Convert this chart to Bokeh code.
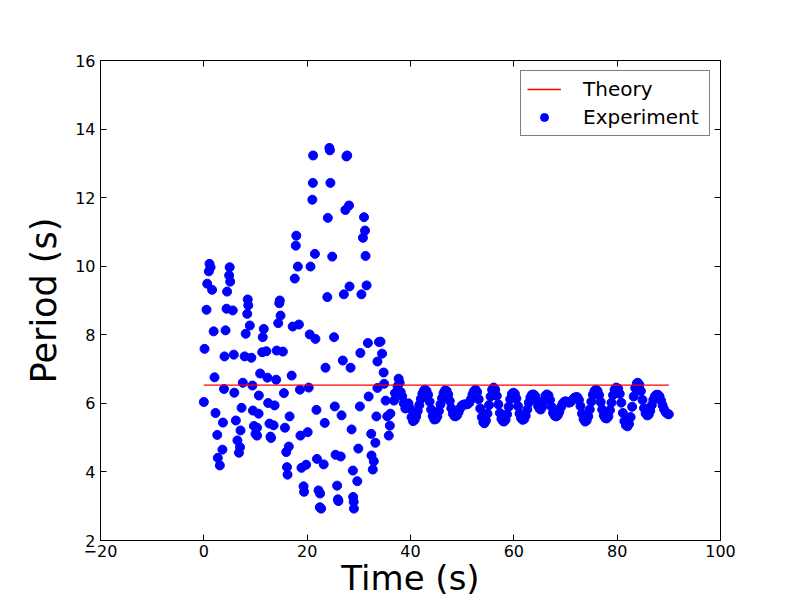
from bokeh.plotting import figure
from bokeh.models import (Range1d, FixedTicker, LinearAxis, Legend, LegendItem,
                          ColumnDataSource)
from bokeh.embed import file_html
from bokeh.resources import INLINE

# ---------------- data ----------------
x_ticks = [-20, 0, 20, 40, 60, 80, 100]
y_ticks = [2, 4, 6, 8, 10, 12, 14, 16]

# sparse early part (0 - 38 s)
time_early = [
    0.0, 0.14, 0.52, 0.65, 0.97, 1.1, 1.3, 1.6, 1.9, 2.07, 2.26, 2.6, 2.7, 3.1, 3.6, 3.7,
    3.9, 4.0, 4.2, 4.4, 4.5, 4.9, 5.0, 5.1, 5.6, 5.8, 5.9, 6.2, 6.5, 6.8, 7.0, 7.1, 7.3,
    7.55, 7.9, 8.1, 8.4, 8.5, 8.6, 8.9, 9.2, 9.4, 9.5, 9.7, 10.0,
    10.3, 10.3, 10.6, 10.65, 10.9, 11.3, 11.4, 11.6, 12.1, 12.3, 12.45, 12.7, 12.9, 13.0,
    13.5, 13.7, 14.0, 14.1, 14.4, 14.6, 14.7, 14.85, 15.3, 15.5, 15.7, 15.95, 16.1, 16.2,
    16.45, 16.6, 17.0, 17.2, 17.6, 17.8, 17.9, 18.2, 18.4, 18.6, 18.7, 18.9, 19.3, 19.4,
    19.8, 20.1, 20.3, 20.5, 20.65, 21.0, 21.1, 21.15, 21.5, 21.6, 21.8, 21.9, 22.2, 22.45,
    22.5, 22.7, 23.2, 23.4, 23.55, 23.9, 24.0, 24.3, 24.4, 24.5, 24.85, 25.2, 25.35, 25.5,
    25.8, 25.95, 26.05, 26.5, 26.65, 26.9, 27.1, 27.4, 27.6, 27.75, 28.1, 28.2, 28.4, 28.6,
    28.85, 28.9, 29.0, 29.05, 29.7, 29.9, 30.2, 30.3, 30.5, 30.8, 31.0, 31.2, 31.3, 31.5,
    31.75, 31.9, 32.4, 32.45, 32.7, 32.9, 33.2, 33.4, 33.6, 33.6, 33.9,
    34.2, 34.5, 34.8, 34.9, 35.2, 35.5, 35.8, 36.0, 36.1, 36.8, 37.0, 37.5, 37.7, 37.9,
]
period_early = [
    6.04, 7.59, 8.73, 9.49, 9.85, 10.07, 9.97, 9.31, 8.10, 6.76, 5.72, 5.08, 4.41, 4.19, 4.65, 5.44,
    6.42, 7.37, 8.13, 8.76, 9.26, 9.73, 9.97, 9.55, 8.71, 7.42, 6.31, 5.50, 4.92, 4.56, 4.72, 5.21, 5.87,
    6.60, 7.37, 8.03, 8.61, 9.03, 8.86, 8.27, 7.33, 6.52, 5.79, 5.34, 5.11,
    5.06, 5.29, 5.70, 6.23, 6.87, 7.49, 7.93, 8.17, 7.52, 6.75, 6.01, 5.41, 5.03, 4.99,
    5.36, 5.94, 6.69, 7.54, 8.34, 8.92, 9.00, 8.56, 7.51, 6.30, 5.29, 4.58, 4.14, 3.92,
    4.74, 5.62, 6.81, 8.24, 9.64, 10.60, 10.89, 9.99, 8.30, 6.40, 5.06, 4.12, 3.58, 3.42,
    4.21, 5.16, 6.46, 8.01, 9.99, 11.94, 12.43, 13.23, 10.36, 7.88, 5.81, 4.38, 3.46, 2.97,
    3.37, 2.93, 4.22, 5.43, 7.04, 9.10, 11.41, 13.45, 13.38, 12.43, 10.28, 7.93, 5.91, 4.50,
    3.60, 3.20, 3.15, 4.45, 5.65, 7.25, 9.18, 11.64, 13.20, 13.23, 11.77, 9.41, 7.04, 5.24,
    4.04, 3.27, 3.13, 2.93, 3.73, 4.68, 5.91, 7.47, 9.18, 10.83, 11.43, 11.04, 10.30, 9.44,
    7.76, 6.20, 5.11, 4.48, 4.07, 4.31, 4.85, 5.62, 6.45, 7.22, 7.79,
    7.80, 7.45, 6.90, 6.57, 6.08, 5.62, 5.06, 5.35, 5.70, 6.08, 6.30, 6.50, 6.72, 6.60,
]

# dense steady part (38 - 90 s)
time_late = [
    38.1, 38.4, 38.7, 39.0, 39.3, 39.6, 39.9, 40.2, 40.5, 40.8, 41.1, 41.4, 41.7, 42.0, 42.3, 42.6, 42.8,
    43.1, 43.4, 43.7, 44.0, 44.3, 44.6, 44.9, 45.2, 45.5, 45.8, 46.1, 46.4, 46.7,
    47.0, 47.3, 47.6, 47.9, 48.2, 48.5, 48.7, 49.0, 49.3, 49.6, 49.9, 50.2, 50.5, 50.8, 51.1, 51.4,
    51.7, 52.0, 52.3, 52.6, 52.9, 53.2, 53.5, 53.8, 54.1, 54.3, 54.6, 54.9, 55.2, 55.5, 55.8, 56.1,
    56.4, 56.7, 57.0, 57.3, 57.6, 57.9, 58.1, 58.4, 58.7, 59.0, 59.3, 59.6, 59.9,
    60.2, 60.5, 60.8, 61.1, 61.4, 61.7, 62.0, 62.3, 62.6, 62.9, 63.2, 63.5, 63.8,
    64.1, 64.4, 64.7, 65.0, 65.2, 65.5, 65.8, 66.1, 66.4, 66.7, 67.0, 67.3, 67.6, 67.9, 68.2,
    68.5, 68.8, 69.1, 69.4, 69.7, 70.0, 70.3, 70.6, 70.9, 71.2, 71.5, 71.8, 72.1, 72.3,
    72.6, 72.9, 73.2, 73.5, 73.8, 74.1, 74.4, 74.7, 75.0, 75.3, 75.6, 75.9,
    76.2, 76.5, 76.8, 77.1, 77.4, 77.7, 78.0, 78.3, 78.6, 78.9, 79.2, 79.5, 79.8,
    80.2, 80.5, 80.8, 81.1, 81.4, 81.7, 82.0, 82.3, 82.6, 82.9, 83.2, 83.5, 83.8, 84.0,
    84.3, 84.6, 84.9, 85.2, 85.5, 85.8, 86.1, 86.4, 86.7, 87.0, 87.3, 87.6, 87.9,
    88.2, 88.5, 88.8, 89.1, 89.4, 89.7, 90.0,
]
period_late = [
    6.33, 6.20, 6.00, 5.85, 5.92, 6.00, 5.85, 5.60, 5.48, 5.52, 5.62, 5.78, 5.95, 6.13, 6.28, 6.37, 6.40,
    6.36, 6.25, 6.05, 5.82, 5.63, 5.53, 5.54, 5.62, 5.78, 5.97, 6.15, 6.30, 6.38,
    6.36, 6.26, 6.07, 5.86, 5.70, 5.63, 5.62, 5.65, 5.74, 5.85, 5.93, 5.96, 5.97, 5.97, 5.98, 6.02,
    6.12, 6.26, 6.36, 6.40, 6.33, 6.12, 5.85, 5.60, 5.45, 5.42, 5.50, 5.70, 5.95, 6.20, 6.40, 6.46,
    6.40, 6.22, 5.97, 5.72, 5.55, 5.48, 5.47, 5.52, 5.68, 5.90, 6.12, 6.27, 6.31,
    6.28, 6.14, 5.92, 5.70, 5.57, 5.52, 5.54, 5.64, 5.82, 6.02, 6.17, 6.25, 6.26,
    6.22, 6.08, 5.92, 5.84, 5.82, 5.90, 6.08, 6.22, 6.26, 6.23, 6.10, 5.90, 5.72, 5.64, 5.62,
    5.65, 5.75, 5.88, 5.98, 6.04, 6.06, 6.04, 6.02, 6.03, 6.08, 6.13, 6.17, 6.18, 6.18,
    6.10, 5.92, 5.70, 5.54, 5.47, 5.50, 5.62, 5.82, 6.05, 6.25, 6.36, 6.40,
    6.36, 6.24, 6.04, 5.82, 5.65, 5.57, 5.56, 5.62, 5.80, 6.02, 6.24, 6.40, 6.46,
    6.43, 6.28, 6.02, 5.72, 5.48, 5.36, 5.33, 5.40, 5.60, 5.90, 6.20, 6.45, 6.58, 6.60,
    6.54, 6.36, 6.10, 5.86, 5.71, 5.65, 5.67, 5.78, 5.95, 6.10, 6.21, 6.25, 6.25,
    6.20, 6.08, 5.94, 5.82, 5.74, 5.70, 5.68,
]

theory_time = [0.0, 90.0]
theory_period = [6.53, 6.53]

# ---------------- figure ----------------
FONT = "DejaVu Sans"

p = figure(width=800, height=600, output_backend="svg", toolbar_location=None,
           x_range=Range1d(-20, 100), y_range=Range1d(2, 16),
           min_border_left=100, min_border_right=80,
           min_border_top=60, min_border_bottom=60)
p.xgrid.visible = False
p.ygrid.visible = False
p.background_fill_color = "white"
p.border_fill_color = "white"
p.outline_line_color = "black"
p.outline_line_width = 1

exp_src = ColumnDataSource(dict(t=time_early + time_late, T=period_early + period_late))
th_src = ColumnDataSource(dict(t=theory_time, T=theory_period))

sc = p.scatter("t", "T", source=exp_src, size=9, marker="circle",
               fill_color="#0000ff", line_color="#0000ff")
ln = p.line("t", "T", source=th_src, line_color="#ff0000", line_width=1.3)


def style_axis(ax, ticks, show_labels=True):
    ax.ticker = FixedTicker(ticks=ticks)
    ax.minor_tick_line_color = None
    ax.major_tick_in = 6
    ax.major_tick_out = 0
    ax.major_tick_line_color = "black"
    ax.axis_line_color = "black"
    ax.major_label_text_font = FONT
    ax.major_label_text_font_size = "16px"
    if show_labels:
        ax.major_label_text_color = "black"
    else:
        ax.major_label_text_color = None
        ax.major_label_standoff = 0


xa = p.xaxis[0]
ya = p.yaxis[0]
style_axis(xa, x_ticks)
style_axis(ya, y_ticks)
xa.major_label_standoff = 4
ya.major_label_standoff = 5
xa.major_label_overrides = {-20: "\u221220"}

xa.axis_label = "Time (s)"
xa.axis_label_text_font = FONT
xa.axis_label_text_font_size = "34px"
xa.axis_label_text_font_style = "normal"
xa.axis_label_text_color = "black"
xa.axis_label_standoff = -2

ya.axis_label = "Period (s)"
ya.axis_label_text_font = FONT
ya.axis_label_text_font_size = "35px"
ya.axis_label_text_font_style = "normal"
ya.axis_label_text_color = "black"
ya.axis_label_standoff = 8

top_ax = LinearAxis()
right_ax = LinearAxis()
style_axis(top_ax, x_ticks, show_labels=False)
style_axis(right_ax, y_ticks, show_labels=False)
p.add_layout(top_ax, "above")
p.add_layout(right_ax, "right")

legend = Legend(items=[LegendItem(label="Theory", renderers=[ln]),
                       LegendItem(label="Experiment", renderers=[sc])],
                location="top_right")
legend.margin = 10
legend.padding = 6
legend.spacing = 4
legend.glyph_width = 34
legend.glyph_height = 20
legend.label_height = 20
legend.label_width = 120
legend.label_standoff = 22
legend.label_text_font = FONT
legend.label_text_font_size = "20px"
legend.label_text_color = "black"
legend.border_line_color = "black"
legend.border_line_width = 1
legend.background_fill_color = "white"
legend.background_fill_alpha = 1.0
p.add_layout(legend)

open("out.html", "w").write(file_html(p, INLINE))
